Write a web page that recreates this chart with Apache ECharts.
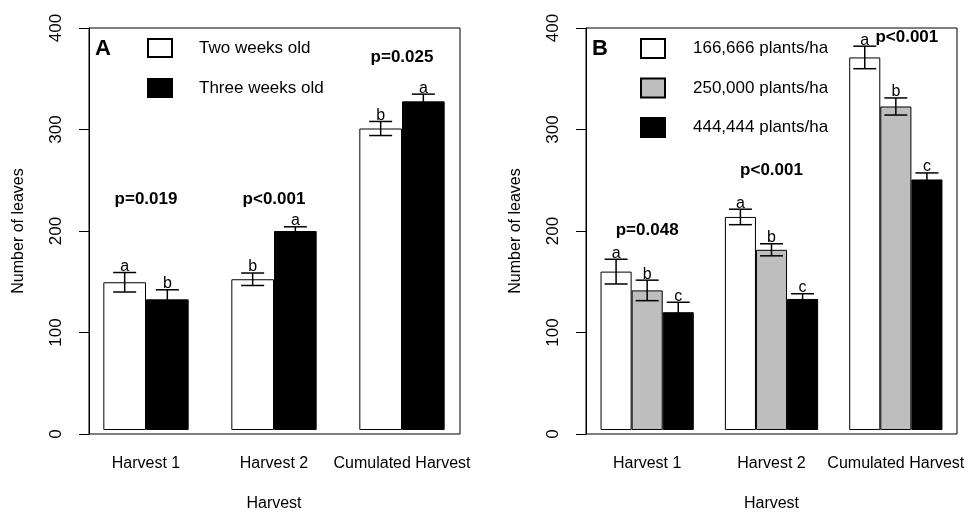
<!DOCTYPE html>
<html>
<head>
<meta charset="utf-8">
<script src="https://cdn.jsdelivr.net/npm/echarts@6/dist/echarts.min.js"></script>
<style>html,body{margin:0;padding:0;background:#fff}#c{width:968px;height:517px}</style>
</head>
<body>
<div id="c"></div>
<script>
// ---------- data ----------
const categories = ['Harvest 1', 'Harvest 2', 'Cumulated Harvest'];
const yTicks = [0, 100, 200, 300, 400];

// Panel A
const ageNames = ['Two weeks old', 'Three weeks old'];
const twoWeeks = [147, 150, 300];
const twoWeeksErr = [9.7, 6.2, 7];
const twoWeeksLetters = ['a', 'b', 'b'];
const threeWeeks = [130, 198, 327];
const threeWeeksErr = [9.5, 4.2, 7.2];
const threeWeeksLetters = ['b', 'a', 'a'];
const pTextA = ['p=0.019', 'p<0.001', 'p=0.025'];
const pTextAY = [229.5, 229.5, 370.5];

// Panel B
const densityNames = ['166,666 plants/ha', '250,000 plants/ha', '444,444 plants/ha'];
const dens166 = [157.6, 212, 370.7];
const dens166Err = [12.3, 7.7, 11.2];
const dens166Letters = ['a', 'a', 'a'];
const dens250 = [138.9, 179.3, 321.9];
const dens250Err = [10.2, 6, 8.5];
const dens250Letters = ['b', 'b', 'b'];
const dens444 = [117.2, 130.4, 249.3];
const dens444Err = [9.9, 5.2, 6.5];
const dens444Letters = ['c', 'c', 'c'];
const pTextB = ['p=0.048', 'p<0.001', 'p<0.001'];
const pTextBY = [199, 258, 390.4];
const pTextBDx = [0, 0, 11]; // label shift in px

// ---------- chart ----------
const FONT = '"Liberation Sans", Arial, sans-serif';
const chart = echarts.init(document.getElementById('c'));

function errSeries(name, grid, nBars, idx, means, errs, letters) {
  return {
    type: 'custom', name: name + ' err', xAxisIndex: grid, yAxisIndex: grid, z: 5,
    data: means.map((m, i) => [i, m, errs[i]]),
    renderItem: function (params, api) {
      const cat = api.value(0), mean = api.value(1), err = api.value(2);
      const band = api.size([1, 0])[0];
      const bw = band / (nBars + 1);
      const cx = api.coord([cat, mean])[0] + (idx - (nBars - 1) / 2) * bw;
      const yT = api.coord([cat, mean + err])[1];
      const yB = api.coord([cat, mean - err])[1];
      const h = 11.5;
      const st = { stroke: '#000', lineWidth: 1.5 };
      return {
        type: 'group', children: [
          { type: 'line', shape: { x1: cx, y1: yT, x2: cx, y2: yB }, style: st },
          { type: 'line', shape: { x1: cx - h, y1: yT, x2: cx + h, y2: yT }, style: st },
          { type: 'line', shape: { x1: cx - h, y1: yB, x2: cx + h, y2: yB }, style: st },
          { type: 'text', x: cx, y: yT + 2, style: { text: letters[params.dataIndex], textAlign: 'center', textVerticalAlign: 'bottom', font: '16px ' + FONT, fill: '#000' } }
        ]
      };
    }
  };
}

function pSeries(grid, texts, ys, dxs) {
  return {
    type: 'custom', xAxisIndex: grid, yAxisIndex: grid, z: 6,
    data: ys.map((y, i) => [i, y]),
    renderItem: function (params, api) {
      const p = api.coord([api.value(0), api.value(1)]);
      const dx = dxs ? dxs[params.dataIndex] : 0;
      return { type: 'text', x: p[0] + dx, y: p[1], style: { text: texts[params.dataIndex], textAlign: 'center', textVerticalAlign: 'middle', font: 'bold 17px ' + FONT, fill: '#000' } };
    }
  };
}

function barSeries(name, grid, data, color, width) {
  return {
    type: 'bar', name: name, xAxisIndex: grid, yAxisIndex: grid, data: data,
    barWidth: width, barGap: '0%',
    itemStyle: { color: color, borderColor: '#000', borderWidth: 1 }
  };
}

const catAxis = (grid) => ({
  type: 'category', gridIndex: grid, data: categories,
  axisLine: { show: false }, axisTick: { show: false },
  axisLabel: { interval: 0, margin: 26, fontSize: 16, color: '#000', fontFamily: FONT },
  name: 'Harvest', nameLocation: 'middle', nameGap: 66,
  nameTextStyle: { fontSize: 16, color: '#000', fontFamily: FONT }
});
const hiddenY = (grid) => ({ type: 'value', gridIndex: grid, min: 0, max: 400, show: false });
const boxX = (grid) => ({ type: 'value', gridIndex: grid, show: false, min: 0, max: 1 });
const boxY = (grid) => ({
  type: 'value', gridIndex: grid, min: yTicks[0], max: yTicks[yTicks.length - 1], interval: 100,
  axisLine: { show: true, lineStyle: { color: '#000', width: 1 } },
  axisTick: { show: true, length: 10, lineStyle: { color: '#000', width: 1 } },
  splitLine: { show: false },
  axisLabel: { rotate: 90, margin: 24, fontSize: 17, color: '#000', fontFamily: FONT },
  name: 'Number of leaves', nameLocation: 'middle', nameGap: 62, nameRotate: 90,
  nameTextStyle: { fontSize: 16, color: '#000', fontFamily: FONT }
});

const option = {
  animation: false,
  backgroundColor: '#fff',
  textStyle: { fontFamily: FONT },
  title: [
    { text: 'A', left: 95, top: 38, padding: 0, textStyle: { fontSize: 22, fontWeight: 'bold', color: '#000', fontFamily: FONT } },
    { text: 'B', left: 592, top: 38, padding: 0, textStyle: { fontSize: 22, fontWeight: 'bold', color: '#000', fontFamily: FONT } }
  ],
  legend: [
    { data: ageNames, orient: 'vertical', left: 147, top: 38, itemWidth: 24, itemHeight: 18, itemGap: 20, icon: 'rect', selectedMode: false, padding: 0,
      textStyle: { fontSize: 17, color: '#000', fontFamily: FONT, padding: [0, 0, 0, 22], lineHeight: 18 } },
    { data: densityNames, orient: 'vertical', left: 640, top: 38, itemWidth: 24, itemHeight: 19, itemGap: 18.5, icon: 'rect', selectedMode: false, padding: 0,
      textStyle: { fontSize: 17, color: '#000', fontFamily: FONT, padding: [0, 0, 0, 23], lineHeight: 19 } }
  ],
  grid: [
    { left: 82, top: 28, width: 384, height: 406 },
    { left: 89, top: 28, width: 371, height: 406, show: true, borderColor: '#000', borderWidth: 1, backgroundColor: 'transparent' },
    { left: 585, top: 28, width: 373, height: 406 },
    { left: 586, top: 28, width: 371, height: 406, show: true, borderColor: '#000', borderWidth: 1, backgroundColor: 'transparent' }
  ],
  xAxis: [catAxis(0), boxX(1), catAxis(2), boxX(3)],
  yAxis: [hiddenY(0), boxY(1), hiddenY(2), boxY(3)],
  series: [
    barSeries(ageNames[0], 0, twoWeeks, '#ffffff', '33.333%'),
    barSeries(ageNames[1], 0, threeWeeks, '#000000', '33.333%'),
    errSeries(ageNames[0], 0, 2, 0, twoWeeks, twoWeeksErr, twoWeeksLetters),
    errSeries(ageNames[1], 0, 2, 1, threeWeeks, threeWeeksErr, threeWeeksLetters),
    pSeries(0, pTextA, pTextAY, null),
    barSeries(densityNames[0], 2, dens166, '#ffffff', '25%'),
    barSeries(densityNames[1], 2, dens250, '#bebebe', '25%'),
    barSeries(densityNames[2], 2, dens444, '#000000', '25%'),
    errSeries(densityNames[0], 2, 3, 0, dens166, dens166Err, dens166Letters),
    errSeries(densityNames[1], 2, 3, 1, dens250, dens250Err, dens250Letters),
    errSeries(densityNames[2], 2, 3, 2, dens444, dens444Err, dens444Letters),
    pSeries(2, pTextB, pTextBY, pTextBDx)
  ]
};
chart.setOption(option);
</script>
</body>
</html>
